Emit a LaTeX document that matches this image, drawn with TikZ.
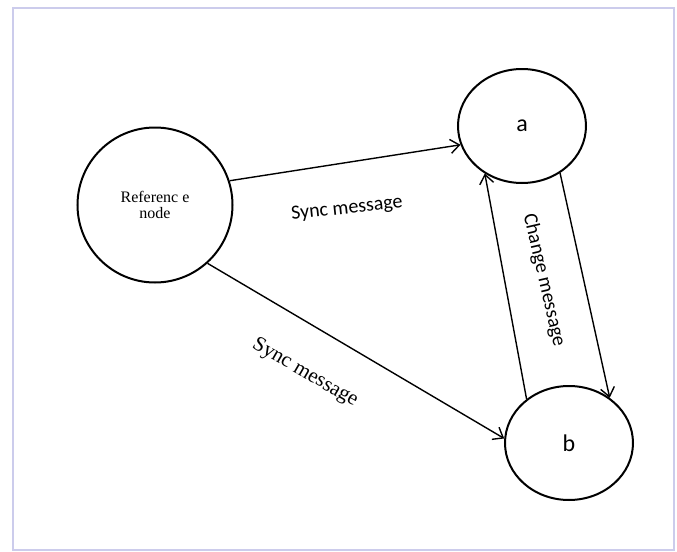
\documentclass[tikz,border=0pt]{standalone}
\usepackage{fontspec}
\setmainfont{Liberation Serif}
\newfontfamily\calib{Carlito}
\usetikzlibrary{shapes.geometric, arrows.meta}

\begin{document}
\begin{tikzpicture}[
    x=0.5pt, y=0.5pt,
    % Nós dos processos
    no/.style={
        draw, ellipse, line width=1pt, inner sep=0pt,
        minimum width=64pt, minimum height=57pt,
        font=\calib\fontsize{12}{14}\selectfont
    },
    % Nó de referência
    noref/.style={
        draw, circle, line width=1pt, inner sep=0pt,
        minimum size=77.5pt, align=center,
        font=\fontsize{8}{8}\selectfont
    },
    linha/.style={draw, line width=0.7pt,
        -{Straight Barb[length=4.5pt, width=7pt]}},
    rot/.style={font=\calib\fontsize{10}{12}\selectfont, inner sep=0pt},
    rotser/.style={font=\fontsize{10.5}{12}\selectfont, inner sep=0pt}
]

% ---- MOLDURA ----
\useasboundingbox (0,0) rectangle (677,-552);
\draw[draw={rgb,255:red,204;green,204;blue,236}, line width=0.8pt]
    (13,-8) rectangle (674,-550);

% ---- NÓS ----
\node[noref] (ref) at (155,-205) {Referenc e\\node};
\node[no] (a) at (522,-126) {a};
\node[no] (b) at (569,-443) {b};

% ---- MENSAGENS ----
\draw[linha] (ref.18)  -- (a.197);
\draw[linha] (ref.-48) -- (b.176);
\draw[linha] (b.134)   -- (a.232);
\draw[linha] (a.-51)   -- (b.48);

% ---- RÓTULOS ----
\node[rot, rotate=6]     (l_sync1)  at (347,-209) {Sync message};
\node[rotser, rotate=-30] (l_sync2) at (305,-373) {Sync message};
\node[rot, rotate=-77]   (l_change) at (544,-280) {Change message};

\end{tikzpicture}
\end{document}
